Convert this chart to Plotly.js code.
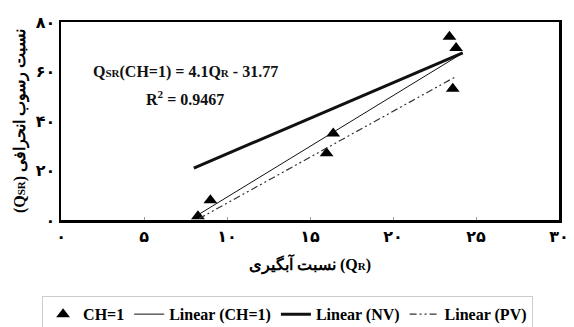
<!DOCTYPE html>
<html><head><meta charset="utf-8">
<script src="https://cdn.plot.ly/plotly-3.0.1.min.js"></script>
<style>html,body{margin:0;padding:0;background:#fff}#c{width:574px;height:327px}</style>
</head><body><div id="c"></div>
<script>
// Observed points (CH=1)
const ptsX = [8.25, 9.0, 16.0, 16.4, 23.4, 23.8, 23.6];
const ptsY = [1.5, 8.0, 27.0, 35.0, 74.0, 69.5, 53.0];
// Trend lines (endpoints)
const linCHx = [8.05, 24.2];
const slopeCH = 4.1, interceptCH = -31.77;
const linCHy = linCHx.map(x => slopeCH * x + interceptCH);
const linNVx = [8.0, 24.2];
const linNVy = [21.0, 67.5];
const linPVx = [8.3, 23.8];
const linPVy = [0.5, 58.0];
// Axis ticks
const xTickVals = [0, 5, 10, 15, 20, 25, 30];
const xTickText = ['۰', '۵', '۱۰', '۱۵', '۲۰', '۲۵', '۳۰'];
const yTickVals = [0, 20, 40, 60, 80];
const yTickText = ['۰', '۲۰', '۴۰', '۶۰', '۸۰'];

const F = 'Liberation Serif, DejaVu Serif, serif';
const FA = 'DejaVu Sans, Liberation Serif, sans-serif';

const traces = [
  {x: ptsX, y: ptsY, mode: 'markers', type: 'scatter', name: 'CH=1',
   marker: {symbol: 'triangle-up', size: 12, color: '#000'}},
  {x: linCHx, y: linCHy, mode: 'lines', type: 'scatter', name: 'Linear (CH=1)',
   line: {color: '#111', width: 1}},
  {x: linNVx, y: linNVy, mode: 'lines', type: 'scatter', name: 'Linear (NV)',
   line: {color: '#111', width: 3}},
  {x: linPVx, y: linPVy, mode: 'lines', type: 'scatter', name: 'Linear (PV)',
   line: {color: '#333', width: 1.2, dash: '7px,3px,2px,3px,2px,3px'}}
];

const layout = {
  width: 574, height: 327,
  margin: {l: 61, r: 15, t: 22, b: 107, autoexpand: false},
  paper_bgcolor: '#fff', plot_bgcolor: '#fff',
  showlegend: true,
  xaxis: {range: [0, 30], tickvals: xTickVals, ticktext: xTickText,
    showgrid: false, zeroline: false, showline: true, mirror: true,
    linecolor: '#000', linewidth: 2.5, ticks: 'inside', ticklen: 3, tickcolor: '#999',
    tickfont: {family: FA, size: 16, color: '#000', weight: 'bold'},
    title: {text: '<b>نسبت آبگیری (Q<span style="font-size:11px">R</span>)</b>',
      font: {family: F, size: 16, color: '#000'}, standoff: 14}},
  yaxis: {range: [0, 80], tickvals: yTickVals, ticktext: yTickText,
    showgrid: false, zeroline: false, showline: true, mirror: true,
    linecolor: '#000', linewidth: 2.5, ticks: '', ticklen: 3,
    tickfont: {family: FA, size: 16, color: '#000', weight: 'bold'},
    title: {text: '<b>(Q<span style="font-size:11px">SR</span>) نسبت رسوب انحرافی</b>',
      font: {family: F, size: 16, color: '#000'}, standoff: 6}},
  legend: {orientation: 'h', x: -0.038, xanchor: 'left', y: -0.385, yanchor: 'top',
    bordercolor: '#ccc', borderwidth: 1, bgcolor: '#fff',
    font: {family: F, size: 16, color: '#000', weight: 'bold'}, tracegroupgap: 0},
  annotations: [
    {xref: 'paper', yref: 'paper', x: (185 - 61) / 498, y: (220 - 72) / 198,
     xanchor: 'center', yanchor: 'middle',
     text: '<b>Q<span style="font-size:11px">SR</span>(CH=1) = 4.1Q<span style="font-size:11px">R</span> - 31.77</b>',
     showarrow: false, font: {family: F, size: 16, color: '#111'}},
    {xref: 'paper', yref: 'paper', x: (185 - 61) / 498, y: (220 - 98) / 198,
     xanchor: 'center', yanchor: 'middle',
     text: '<b>R<sup>2</sup> = 0.9467</b>',
     showarrow: false, font: {family: F, size: 16, color: '#111'}}
  ]
};
Plotly.newPlot('c', traces, layout, {displayModeBar: false, staticPlot: true});
</script></body></html>
